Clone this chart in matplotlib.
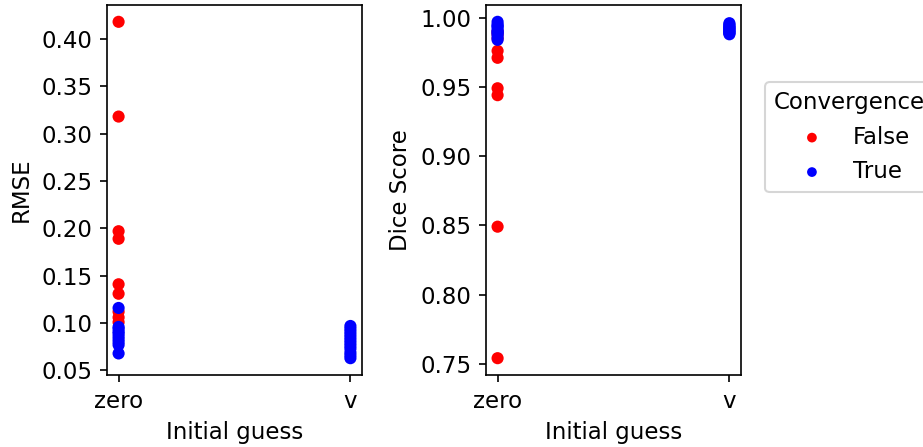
import matplotlib
matplotlib.use("Agg")
import matplotlib.pyplot as plt

plt.rcParams["font.size"] = 11

# initial guess groups
guess_cats = ["zero", "v"]

# RMSE values
rmse_zero_false = [0.418, 0.318, 0.197, 0.189, 0.141, 0.131, 0.112, 0.106, 0.101]
rmse_zero_true = [0.116, 0.096, 0.094, 0.091, 0.089, 0.086, 0.083, 0.080, 0.077, 0.068]
rmse_v_true = [0.097, 0.094, 0.091, 0.088, 0.085, 0.082, 0.079, 0.076, 0.073, 0.069, 0.066, 0.063]

# Dice values
dice_zero_false = [0.754, 0.849, 0.944, 0.949, 0.971, 0.976, 0.985, 0.988, 0.990]
dice_zero_true = [0.997, 0.995, 0.994, 0.993, 0.991, 0.990, 0.989, 0.988, 0.986, 0.984]
dice_v_true = [0.996, 0.995, 0.994, 0.993, 0.993, 0.992, 0.991, 0.991, 0.990, 0.989, 0.989, 0.988]

fig = plt.figure(figsize=(923 / 150, 447 / 150), dpi=150)
ax1 = fig.add_axes([107 / 923, 72 / 447, 255 / 923, 370 / 447])
ax2 = fig.add_axes([486 / 923, 72 / 447, 255 / 923, 370 / 447])

s = 34
for ax, zf, zt, vt, lab in [
    (ax1, rmse_zero_false, rmse_zero_true, rmse_v_true, "RMSE"),
    (ax2, dice_zero_false, dice_zero_true, dice_v_true, "Dice Score"),
]:
    # set category order
    ax.scatter(guess_cats, [zt[0], vt[0]], s=0)
    ax.scatter(["zero"] * len(zf), zf, s=s, color="red", edgecolors="none", label="False")
    ax.scatter(["zero"] * len(zt), zt, s=s, color="blue", edgecolors="none", label="True")
    ax.scatter(["v"] * len(vt), vt, s=s, color="blue", edgecolors="none")
    ax.set_xlabel("Initial guess")
    ax.set_ylabel(lab)

ax1.set_yticks([0.05, 0.10, 0.15, 0.20, 0.25, 0.30, 0.35, 0.40])
ax2.set_yticks([0.75, 0.80, 0.85, 0.90, 0.95, 1.00])

h, l = ax1.get_legend_handles_labels()
fig.legend(h, l, title="Convergence", loc="upper left", markerscale=0.8,
           bbox_to_anchor=(765 / 923, 1 - 82 / 447), borderaxespad=0)

fig.savefig("out.png", dpi=150)
